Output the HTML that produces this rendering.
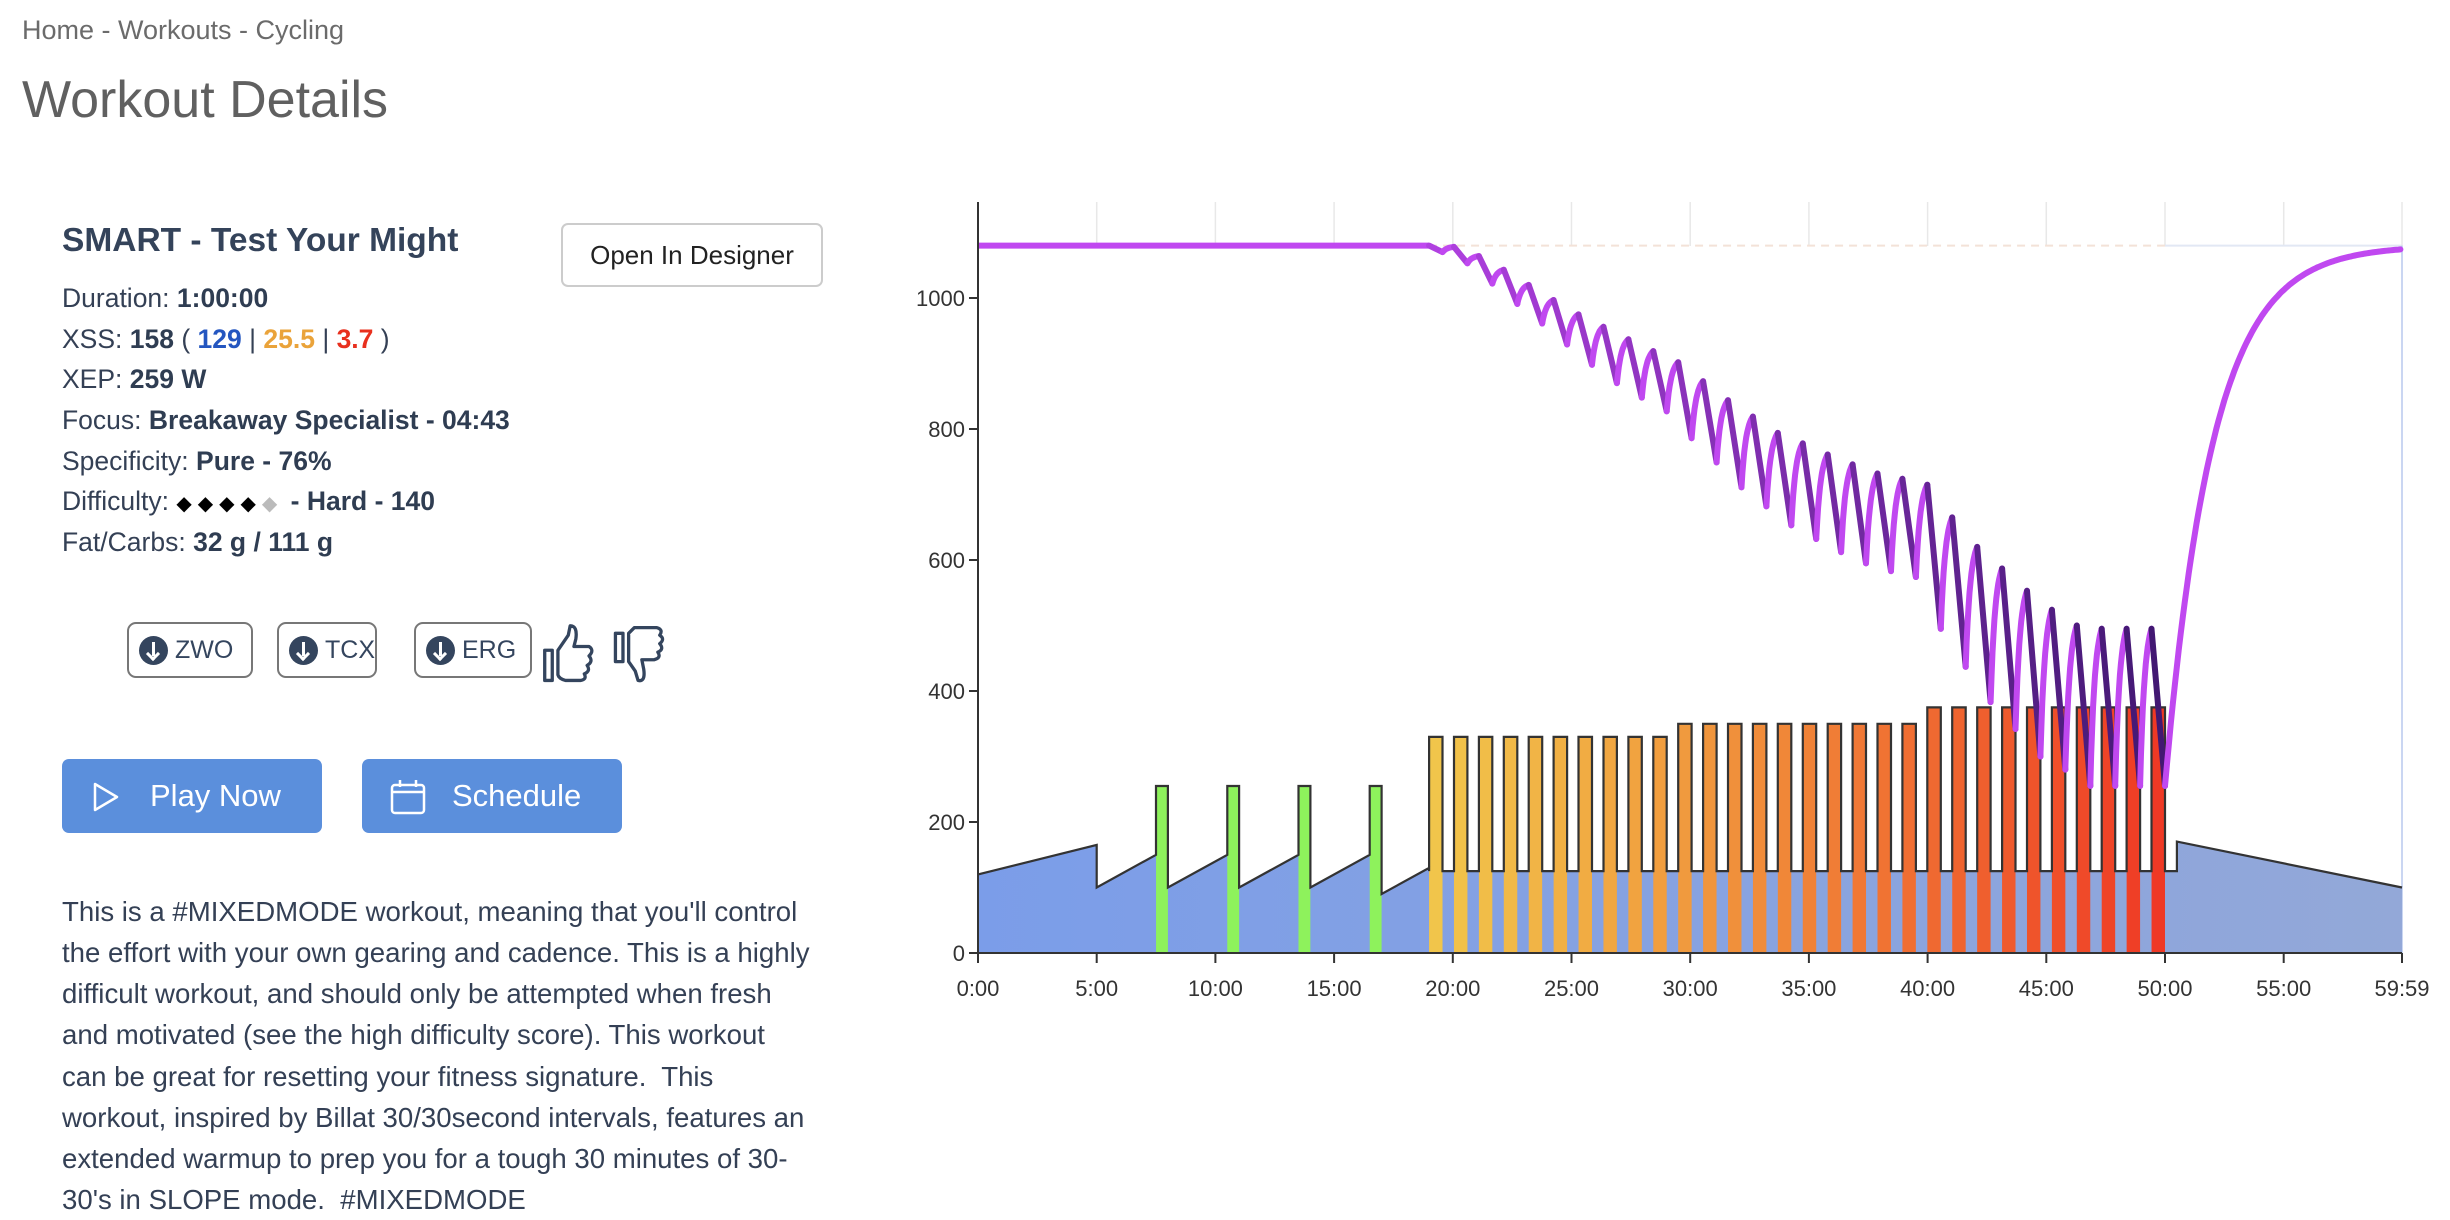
<!DOCTYPE html>
<html><head><meta charset="utf-8">
<style>
html,body{margin:0;padding:0;background:#fff;}
body{width:2450px;height:1220px;position:relative;overflow:hidden;font-family:"Liberation Sans",sans-serif;}
.a{position:absolute;white-space:nowrap;}
.crumb{left:22px;top:15px;font-size:27px;color:#6b6b6b;}
.h1{left:22px;top:70px;font-size:52px;color:#606060;}
.title{left:62px;top:222px;font-size:33.5px;font-weight:bold;color:#34435a;}
.info{left:62px;font-size:26.5px;color:#344055;line-height:30px;}
.info b{color:#2f3d52;}
.btn-od{left:561px;top:223px;width:262px;height:64px;border:2px solid #ccc;border-radius:7px;box-sizing:border-box;font-size:26px;color:#222;text-align:center;line-height:60px;}
.dl{top:622px;height:56px;border:2px solid #777;border-radius:9px;box-sizing:border-box;color:#34455e;font-size:25px;line-height:52px;padding-left:46px;}
.dl i{position:absolute;left:10px;top:12px;width:29px;height:29px;border-radius:50%;background:#34455e;}
.dl i:before{content:"";position:absolute;left:13px;top:6px;width:3px;height:14px;background:#fff;}
.dl i:after{content:"";position:absolute;left:9px;top:13px;width:7px;height:7px;border-right:3px solid #fff;border-bottom:3px solid #fff;transform:rotate(45deg);}
.pb{top:759px;height:74px;background:#5b8fdc;border-radius:7px;color:#fff;font-size:31px;line-height:74px;}
.para{left:62px;font-size:27.6px;color:#344055;}
</style></head><body>
<div class="a crumb">Home - Workouts - Cycling</div>
<div class="a h1">Workout Details</div>
<div class="a title">SMART - Test Your Might</div>
<div class="a btn-od">Open In Designer</div>
<div class="a info" style="top:283px">Duration: <b>1:00:00</b></div>
<div class="a info" style="top:324px">XSS: <b>158</b> ( <b style="color:#2456c0">129</b> | <b style="color:#eaa33a">25.5</b> | <b style="color:#e8301e">3.7</b> )</div>
<div class="a info" style="top:364px">XEP: <b>259 W</b></div>
<div class="a info" style="top:405px">Focus: <b>Breakaway Specialist - 04:43</b></div>
<div class="a info" style="top:446px">Specificity: <b>Pure - 76%</b></div>
<div class="a info" style="top:486px">Difficulty: <span style="color:#000;font-size:20px;letter-spacing:6px">◆◆◆◆<span style="color:#bbb">◆</span></span> <b>- Hard - 140</b></div>
<div class="a info" style="top:527px">Fat/Carbs: <b>32 g / 111 g</b></div>

<div class="a dl" style="left:127px;width:126px"><i></i>ZWO</div>
<div class="a dl" style="left:277px;width:100px"><i></i>TCX</div>
<div class="a dl" style="left:414px;width:118px"><i></i>ERG</div>
<svg class="a" style="left:536px;top:622px" width="140" height="66" viewBox="0 0 140 70">
<g fill="none" stroke="#34455e" stroke-width="3.5" stroke-linejoin="round">
<rect x="5" y="30" width="8" height="32"/>
<path d="M19 30 L30 14 L32 4 Q40 4 38 18 L36 26 L52 26 Q58 30 52 36 Q57 42 50 46 Q54 52 47 55 Q50 61 43 62 L27 62 Q20 60 19 56 Z"/>
<rect x="80" y="12" width="8" height="30"/>
<path d="M94 12 L100 6 L124 6 Q131 8 127 14 Q133 18 127 23 Q132 29 125 32 Q129 38 121 40 L108 40 L110 50 Q112 64 104 62 L101 52 L94 42 Z"/>
</g></svg>

<div class="a pb" style="left:62px;width:260px"><svg style="position:absolute;left:30px;top:23px" width="28" height="30"><path d="M3 2 L25 15 L3 28 Z" fill="none" stroke="#fff" stroke-width="2.5" stroke-linejoin="round"/></svg><span style="position:absolute;left:88px">Play Now</span></div>
<div class="a pb" style="left:362px;width:260px"><svg style="position:absolute;left:28px;top:20px" width="36" height="36"><g fill="none" stroke="#fff" stroke-width="2.5"><rect x="2" y="6" width="32" height="28" rx="3"/><line x1="2" y1="13" x2="34" y2="13"/><line x1="10" y1="1" x2="10" y2="8"/><line x1="26" y1="1" x2="26" y2="8"/></g></svg><span style="position:absolute;left:90px">Schedule</span></div>

<div class="a para" style="top:896px">This is a #MIXEDMODE workout, meaning that you'll control</div>
<div class="a para" style="top:937px">the effort with your own gearing and cadence. This is a highly</div>
<div class="a para" style="top:978px">difficult workout, and should only be attempted when fresh</div>
<div class="a para" style="top:1019px">and motivated (see the high difficulty score). This workout</div>
<div class="a para" style="top:1061px">can be great for resetting your fitness signature.&nbsp; This</div>
<div class="a para" style="top:1102px">workout, inspired by Billat 30/30second intervals, features an</div>
<div class="a para" style="top:1143px">extended warmup to prep you for a tough 30 minutes of 30-</div>
<div class="a para" style="top:1184px">30's in SLOPE mode.&nbsp; #MIXEDMODE</div>

<svg id="ch" class="a" style="left:0;top:0" width="2450" height="1220"></svg>
<script>
(function(){
var X0=978,SX=1424/3599,Y0=953,SY=0.655;
function X(t){return X0+t*SX;} function Y(v){return Y0-v*SY;}
var s='';
s+='<defs><linearGradient id="bl" x1="0" x2="1"><stop offset="0" stop-color="#7b9de9"/><stop offset="1" stop-color="#93a8d8"/></linearGradient></defs>';
for(var k=0;k<=12;k++){var gx=k<12?X(k*300):X(3599);s+='<line x1="'+gx+'" y1="202" x2="'+gx+'" y2="246" stroke="#e8e8e8" stroke-width="1.5"/>';}
s+='<line x1="'+X(1140)+'" y1="'+Y(1080)+'" x2="'+X(3000)+'" y2="'+Y(1080)+'" stroke="#f3e2d8" stroke-width="2" stroke-dasharray="8 6"/>';
s+='<line x1="'+X(3000)+'" y1="'+Y(1080)+'" x2="'+X(3599)+'" y2="'+Y(1080)+'" stroke="#e2e8f4" stroke-width="2"/>';
s+='<line x1="'+X(3599)+'" y1="'+Y(1080)+'" x2="'+X(3599)+'" y2="953" stroke="#b8c8ee" stroke-width="1.5"/>';
var P=[];
function ramp(a,b,p,q){P.push([a,p]);P.push([b,q]);}
ramp(0,300,120,165);
var sp=[[300,450],[480,630],[660,810],[840,990]];
for(var i=0;i<4;i++){ramp(sp[i][0],sp[i][1],100,150);P.push([sp[i][1],255]);P.push([sp[i][1]+30,255]);}
ramp(1020,1140,90,130);
var per=(1830-4)/29,W=34,blocks=[];
for(var i=0;i<30;i++){var st=1140+i*per,pw=i<10?330:(i<20?350:375);blocks.push([st,st+W,pw]);
P.push([st,125]);P.push([st,pw]);P.push([st+W,pw]);P.push([st+W,125]);}
P.push([3030,125]);P.push([3030,170]);P.push([3599,100]);
var poly='M'+X(0)+' '+Y(0);P.forEach(function(p){poly+=' L'+X(p[0]).toFixed(1)+' '+Y(p[1]).toFixed(1);});
poly+=' L'+X(3599)+' '+Y(0)+' Z';
s+='<path d="'+poly+'" fill="url(#bl)"/>';
for(var i=0;i<4;i++){var a=sp[i][1];s+='<rect x="'+X(a)+'" y="'+Y(255)+'" width="'+(30*SX)+'" height="'+(255*SY)+'" fill="#8ef25c"/>';}
function col(i){var f=i/29;var h=44-38*f,l=62-8*f;return 'hsl('+h+',86%,'+l+'%)';}
blocks.forEach(function(b,i){s+='<rect x="'+X(b[0])+'" y="'+Y(b[2])+'" width="'+(W*SX)+'" height="'+(b[2]*SY)+'" fill="'+col(i)+'"/>';});
var ol='';P.forEach(function(p,j){ol+=(j?' L':'M')+X(p[0]).toFixed(1)+' '+Y(p[1]).toFixed(1);});
s+='<path d="'+ol+'" fill="none" stroke="#333" stroke-width="2.2"/>';
var pk=[1080,1078,1064,1043,1020,997,975,956,937,919,902,873,844,819,794,778,761,746,732,724,715,665,620,587,553,524,500,495,495,495];
var tr=[1070,1053,1022,991,961,929,898,870,848,827,786,749,711,682,653,632,612,595,583,574,495,437,383,342,300,280,255,255,255,255];
var rc='#c048f0';
s+='<path d="M'+X(0)+' '+Y(1080)+' L'+X(1140)+' '+Y(1080)+'" stroke="'+rc+'" stroke-width="6" fill="none"/>';
for(var i=0;i<30;i++){var b=blocks[i];
 var f=i/29,r=Math.round(176-110*f),g=Math.round(64-40*f),bb=Math.round(224-110*f);
 s+='<path d="M'+X(b[0]).toFixed(1)+' '+Y(pk[i]).toFixed(1)+' L'+X(b[1]).toFixed(1)+' '+Y(tr[i]).toFixed(1)+'" stroke="rgb('+r+','+g+','+bb+')" stroke-width="6" stroke-linecap="round" fill="none"/>';
 var d='M'+X(b[1]).toFixed(1)+' '+Y(tr[i]).toFixed(1);
 if(i<29){var e=blocks[i+1][0],tp=pk[i+1];
  for(var k=1;k<=12;k++){var u=k/12,t=b[1]+(e-b[1])*u,v=tr[i]+(tp-tr[i])*(1-Math.exp(-2.5*u))/(1-Math.exp(-2.5));d+=' L'+X(t).toFixed(1)+' '+Y(v).toFixed(1);}
 }else{
  for(var t=b[1];t<=3599;t+=5){var v=1080-(1080-255)*Math.exp(-(t-b[1])/120);d+=' L'+X(t).toFixed(1)+' '+Y(v).toFixed(1);}
 }
 s+='<path d="'+d+'" stroke="'+rc+'" stroke-width="6" stroke-linecap="round" fill="none"/>';
}
s+='<line x1="'+X0+'" y1="202" x2="'+X0+'" y2="954" stroke="#333" stroke-width="2"/>';
s+='<line x1="'+X0+'" y1="953" x2="'+X(3599)+'" y2="953" stroke="#333" stroke-width="2"/>';
for(var v=0;v<=1000;v+=200){s+='<line x1="'+(X0-9)+'" y1="'+Y(v)+'" x2="'+X0+'" y2="'+Y(v)+'" stroke="#333" stroke-width="2"/>';
 s+='<text x="'+(X0-13)+'" y="'+(Y(v)+8)+'" text-anchor="end" font-family="Liberation Sans,sans-serif" font-size="22" fill="#333">'+v+'</text>';}
var lb=['0:00','5:00','10:00','15:00','20:00','25:00','30:00','35:00','40:00','45:00','50:00','55:00','59:59'];
for(var k=0;k<13;k++){var gx=k<12?X(k*300):X(3599);
 s+='<line x1="'+gx+'" y1="953" x2="'+gx+'" y2="963" stroke="#333" stroke-width="2"/>';
 s+='<text x="'+gx+'" y="996" text-anchor="middle" font-family="Liberation Sans,sans-serif" font-size="22" fill="#333">'+lb[k]+'</text>';}
document.getElementById('ch').innerHTML=s;
})();
</script>
</body></html>
